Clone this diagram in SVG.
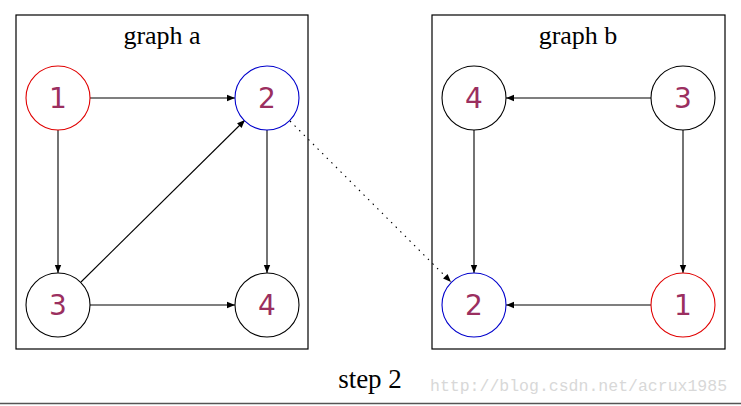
<svg xmlns="http://www.w3.org/2000/svg" width="741" height="406" viewBox="0 0 741 406">
<style>
.box{fill:none;stroke:#000;stroke-width:1.2}
.n{fill:#fff;stroke:#000;stroke-width:1.1}
.red{stroke:#e00000}
.blue{stroke:#0000cc}
.lbl{font-family:"DejaVu Sans",sans-serif;font-size:28px;fill:#9b2f5f;text-anchor:middle}
.title{font-family:"Liberation Serif",serif;font-size:26px;fill:#000;text-anchor:middle}
.e{stroke:#000;stroke-width:1.1;fill:none;marker-end:url(#ah)}
</style>
<defs>
<marker id="ah" viewBox="0 0 10 10" refX="10" refY="5" markerWidth="10" markerHeight="8" markerUnits="userSpaceOnUse" orient="auto">
<path d="M0,1 L10,5 L0,9 Z" fill="#000"/>
</marker>
</defs>
<rect width="741" height="406" fill="#fff"/>
<g id="graph-a">
<rect class="box" x="16" y="15" width="292" height="334"/>
<text class="title" x="162" y="44">graph a</text>
</g>
<g id="graph-b">
<rect class="box" x="432" y="15" width="293" height="334"/>
<text class="title" x="578" y="44">graph b</text>
</g>
<g id="edges">
<line class="e" x1="90" y1="98" x2="235" y2="98"/>
<line class="e" x1="58" y1="130" x2="58" y2="273"/>
<line class="e" x1="81" y1="282" x2="245" y2="120"/>
<line class="e" x1="267" y1="130" x2="267" y2="273"/>
<line class="e" x1="90" y1="305" x2="235" y2="305"/>
<line class="e" x1="651" y1="98" x2="506" y2="98"/>
<line class="e" x1="474" y1="130" x2="474" y2="273"/>
<line class="e" x1="683" y1="130" x2="683" y2="273"/>
<line class="e" x1="651" y1="305" x2="506" y2="305"/>
<line class="e" x1="290" y1="121" x2="451" y2="282" stroke-dasharray="1.5,5"/>
</g>
<g id="a1"><circle class="n red" cx="58" cy="98" r="32"/><text class="lbl" x="58" y="108">1</text></g>
<g id="a2"><circle class="n blue" cx="267" cy="98" r="32"/><text class="lbl" x="267" y="108">2</text></g>
<g id="a3"><circle class="n" cx="58" cy="305" r="32"/><text class="lbl" x="58" y="315">3</text></g>
<g id="a4"><circle class="n" cx="267" cy="305" r="32"/><text class="lbl" x="267" y="315">4</text></g>
<g id="b4"><circle class="n" cx="474" cy="98" r="32"/><text class="lbl" x="474" y="108">4</text></g>
<g id="b3"><circle class="n" cx="683" cy="98" r="32"/><text class="lbl" x="683" y="108">3</text></g>
<g id="b2"><circle class="n blue" cx="474" cy="305" r="32"/><text class="lbl" x="474" y="315">2</text></g>
<g id="b1"><circle class="n red" cx="683" cy="305" r="32"/><text class="lbl" x="683" y="315">1</text></g>
<text x="370" y="388" font-family="Liberation Serif,serif" font-size="27" text-anchor="middle" fill="#000">step 2</text>
<text x="430" y="391" font-family="Liberation Mono,monospace" font-size="16.5" fill="#d8d8d8">http://blog.csdn.net/acrux1985</text>
<line x1="0" y1="403.5" x2="741" y2="403.5" stroke="#555" stroke-width="1.5"/>
</svg>
